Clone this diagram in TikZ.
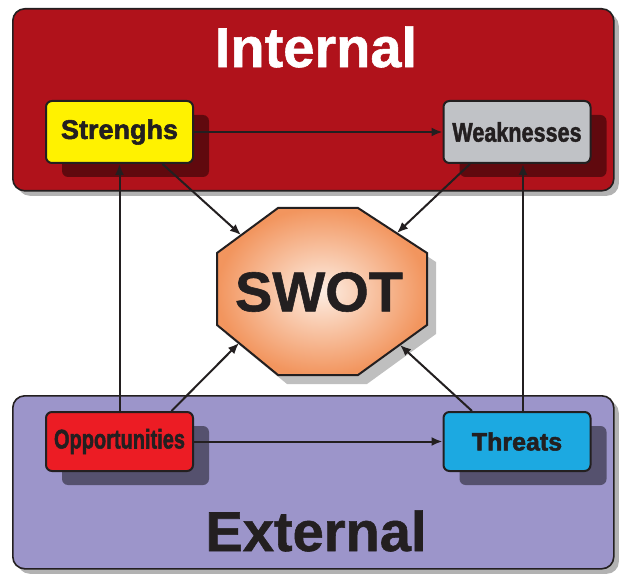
\documentclass[tikz,border=0pt]{standalone}
\usepackage{fontspec}
\setmainfont{Liberation Sans}
\newfontfamily\heavy{Liberation Sans}[BoldFeatures={FakeBold=2}]
\newfontfamily\bigheavy{Liberation Sans}[BoldFeatures={FakeBold=1}]
\usetikzlibrary{shadows,arrows.meta}
\definecolor{intred}{HTML}{B0121B}
\definecolor{extpurple}{HTML}{9C95CA}
\definecolor{strY}{HTML}{FFF200}
\definecolor{weakG}{HTML}{C0C2C6}
\definecolor{oppR}{HTML}{EC1C24}
\definecolor{thrC}{HTML}{1CA9E1}
\definecolor{ink}{HTML}{231F20}
\definecolor{peachin}{HTML}{FDEDE2}
\definecolor{peachout}{HTML}{F2955E}
\begin{document}
\begin{tikzpicture}[x=1pt,y=-1pt,
  region/.style={draw=ink, line width=1.6pt, rounded corners=12pt, anchor=north west,
    minimum width=601pt, inner sep=0pt,
    drop shadow={shadow xshift=5pt, shadow yshift=-5pt, opacity=0.3, fill=black}},
  swbox/.style={draw=ink, line width=2pt, rounded corners=6pt, minimum width=147pt,
    inner sep=0pt, text=ink, font=\fontsize{27}{30}\heavy\bfseries,
    drop shadow={shadow xshift=16pt, shadow yshift=-14pt, opacity=0.45, fill=black}},
  bigtext/.style={font=\fontsize{56}{60}\bigheavy\bfseries, inner sep=0pt},
  conn/.style={draw=ink, line width=2pt, -{Latex[length=11pt,width=9pt]}}]
\useasboundingbox (0,0) rectangle (619,575);
\fill[white] (0,0) rectangle (619,575);
% regions
\node[region, fill=intred, minimum height=182pt] (internal) at (12,8) {};
\node[region, fill=extpurple, minimum height=173pt] (external) at (12,395) {};
\node[bigtext, text=white] (intlabel) at (316,47) {Internal};
\node[bigtext, text=ink] (extlabel) at (316,531) {External};
% boxes
\node[swbox, fill=strY, minimum height=62pt] (str) at (119.5,132) {Strenghs};
\node[swbox, fill=weakG, minimum height=62pt] (weak) at (517,132) {\scalebox{0.8}[1]{Weaknesses}};
\node[swbox, fill=oppR, minimum height=59pt] (opp) at (119.5,441.5) {\scalebox{0.74}[1]{Opportunities}};
\node[swbox, fill=thrC, minimum height=59pt] (thr) at (517,441.5) {\fontsize{25}{28}\selectfont Threats};
% octagon
\coordinate (o1) at (278,208); \coordinate (o2) at (358,208);
\coordinate (o3) at (427,253); \coordinate (o4) at (427,325);
\coordinate (o5) at (358,375); \coordinate (o6) at (278,375);
\coordinate (o7) at (217,325); \coordinate (o8) at (217,253);
\fill[black, opacity=0.25] ([shift={(9,9)}]o1) -- ([shift={(9,9)}]o2) -- ([shift={(9,9)}]o3) -- ([shift={(9,9)}]o4) -- ([shift={(9,9)}]o5) -- ([shift={(9,9)}]o6) -- ([shift={(9,9)}]o7) -- ([shift={(9,9)}]o8) -- cycle;
\draw[ink, line width=2pt, inner color=peachin, outer color=peachout] (o1) -- (o2) -- (o3) -- (o4) -- (o5) -- (o6) -- (o7) -- (o8) -- cycle;
\node[bigtext, text=ink] (swot) at (319,292) {SWOT};
\coordinate (sIn) at (241,235);
\coordinate (wIn) at (397,233);
\coordinate (oIn) at (239,343);
\coordinate (tIn) at (400,345);
% connectors
\draw[conn] (str.east) -- (weak.west);
\draw[conn] (opp.east) -- (thr.west);
\draw[conn] (opp.north) -- (str.south);
\draw[conn] ([xshift=6pt]thr.north) -- ([xshift=6pt]weak.south);
\draw[conn] ([xshift=43pt]str.south) -- (sIn);
\draw[conn] ([xshift=-47pt]weak.south) -- (wIn);
\draw[conn] ([xshift=52pt]opp.north) -- (oIn);
\draw[conn] ([xshift=-45pt]thr.north) -- (tIn);
\end{tikzpicture}
\end{document}
